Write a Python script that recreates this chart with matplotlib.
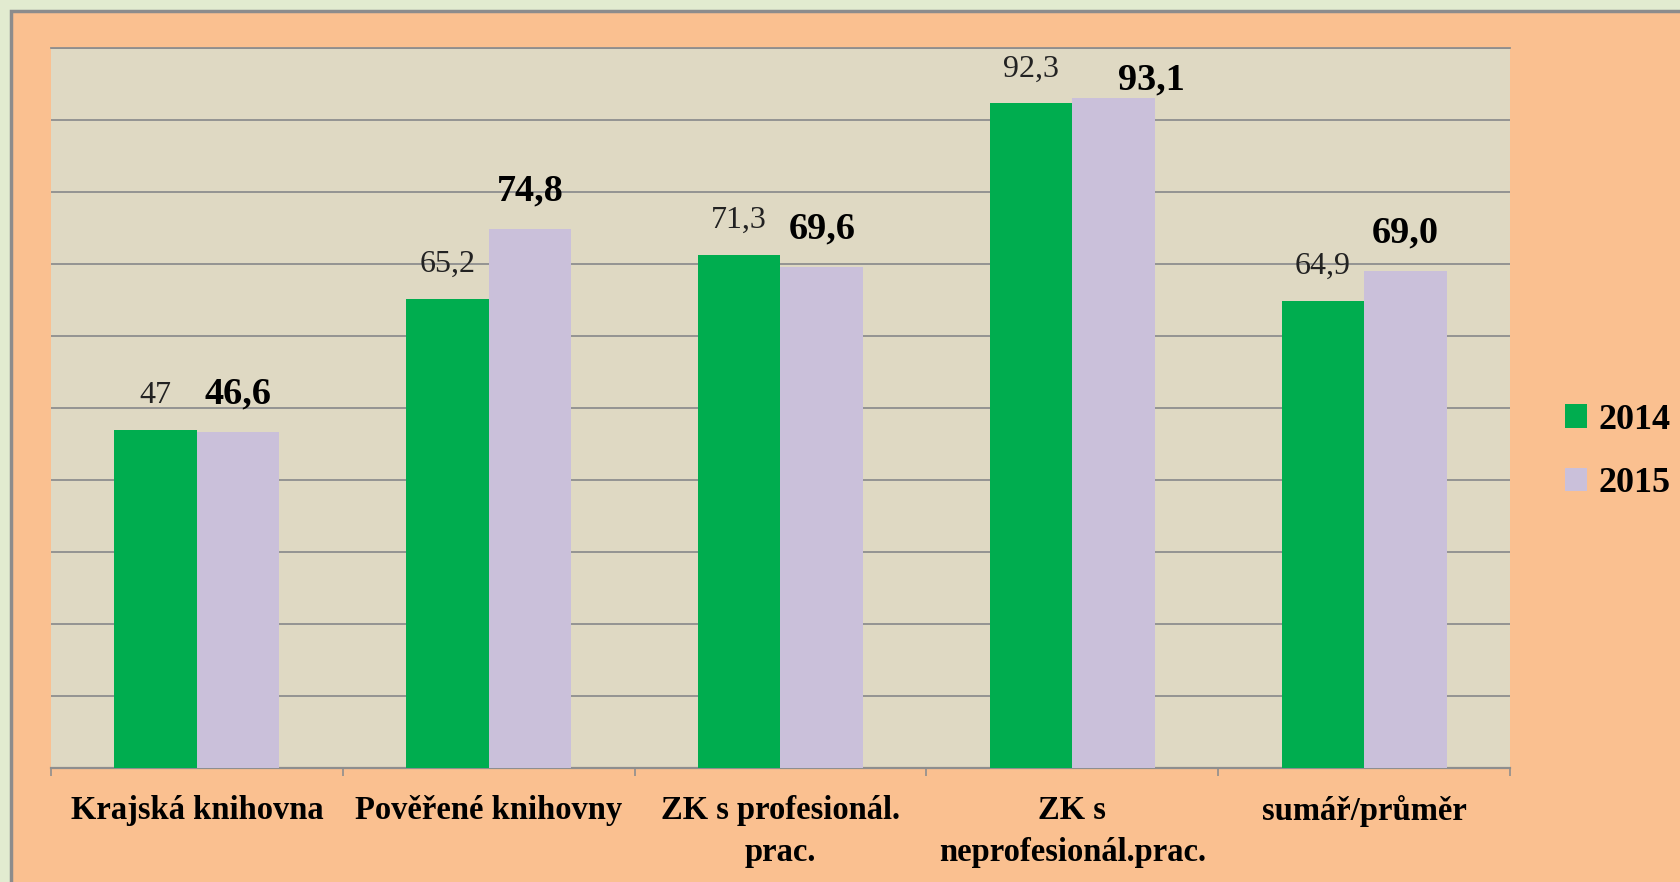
import numpy as np
import matplotlib
matplotlib.use("Agg")
import matplotlib.pyplot as plt
from matplotlib.patches import Rectangle

# data
categories = ['Krajská knihovna', 'Pověřené knihovny', 'ZK s profesionál.\nprac.',
              'ZK s\nneprofesionál.prac.', 'sumář/průměr']
values_2014 = [47, 65.2, 71.3, 92.3, 64.9]
values_2015 = [46.6, 74.8, 69.6, 93.1, 69.0]
labels_2014 = ['47', '65,2', '71,3', '92,3', '64,9']
labels_2015 = ['46,6', '74,8', '69,6', '93,1', '69,0']
series_names = ['2014', '2015']

green = '#00AD4F'
lilac = '#CAC0DA'
grid_gray = '#8E8E8E'
serif = 'Liberation Serif'

W, H = 1681, 882
fig = plt.figure(figsize=(W / 100, H / 100), dpi=100)
fig.patch.set_facecolor('#E2EBD0')

# orange frame with grey border, kept behind the axes
frame = Rectangle((11 / W, -0.01), 1.01, 1 - 11 / H + 0.01, transform=fig.transFigure,
                  facecolor='#FAC090', edgecolor='#8C8C8C', linewidth=2.5, zorder=-10)
fig.patches.append(frame)

ax = fig.add_axes([51 / W, 1 - 768 / H, (1510 - 51) / W, (768 - 48) / H])
ax.set_zorder(1)
ax.set_facecolor('#DFD9C3')

x = np.arange(len(categories))
bw = 0.283
ax.bar(x - bw / 2, values_2014, bw, color=green, zorder=3, label=series_names[0])
ax.bar(x + bw / 2, values_2015, bw, color=lilac, zorder=3, label=series_names[1])

ax.set_xlim(-0.5, len(categories) - 0.5)
ax.set_ylim(0, 100)
ax.set_yticks(np.arange(0, 101, 10))
ax.set_yticklabels([])
ax.tick_params(axis='y', length=0)
ax.grid(axis='y', color=grid_gray, linewidth=1.3, zorder=1)
ax.set_axisbelow(True)

for s in ['left', 'right']:
    ax.spines[s].set_visible(False)
ax.spines['top'].set_color(grid_gray)
ax.spines['top'].set_linewidth(1.3)
ax.spines['bottom'].set_color(grid_gray)
ax.spines['bottom'].set_linewidth(1.6)

# boundary ticks + centred category labels
ax.set_xticks(np.arange(-0.5, len(categories)), labels=[''] * (len(categories) + 1))
ax.tick_params(axis='x', which='major', length=6, width=1.2, color=grid_gray, direction='out')
ax.set_xticks(x, labels=categories, minor=True)
ax.tick_params(axis='x', which='minor', length=0, pad=19.5)
for t in ax.get_xticklabels(minor=True):
    t.set_fontfamily(serif)
    t.set_fontweight('bold')
    t.set_fontsize(23.5)
    t.set_linespacing(1.45)

# value labels
for xi, v, lab in zip(x, values_2014, labels_2014):
    ax.text(xi - bw / 2, min(v + 4.8, 97.0), lab, ha='center', va='center',
            fontfamily=serif, fontsize=23, color='#222222', clip_on=False, zorder=4)
for xi, v, lab in zip(x, values_2015, labels_2015):
    y = v + 5.3
    dx = 0
    if y > 95.5:  # no room above the top: pushed down and to the right
        y = 95.5
        dx = 0.13
    ax.text(xi + bw / 2 + dx, y, lab, ha='center', va='center',
            fontfamily=serif, fontsize=27.5, fontweight='bold', color='black',
            clip_on=False, zorder=4)

leg = ax.legend(loc='center left', bbox_to_anchor=(1565 / W, 1 - 452 / H),
                bbox_transform=fig.transFigure, frameon=False, borderpad=0,
                borderaxespad=0, handlelength=0.62, handleheight=0.62,
                handletextpad=0.3, labelspacing=0.85,
                prop={'family': serif, 'weight': 'bold', 'size': 26})

fig.savefig('out.png', dpi=100, facecolor=fig.get_facecolor())
